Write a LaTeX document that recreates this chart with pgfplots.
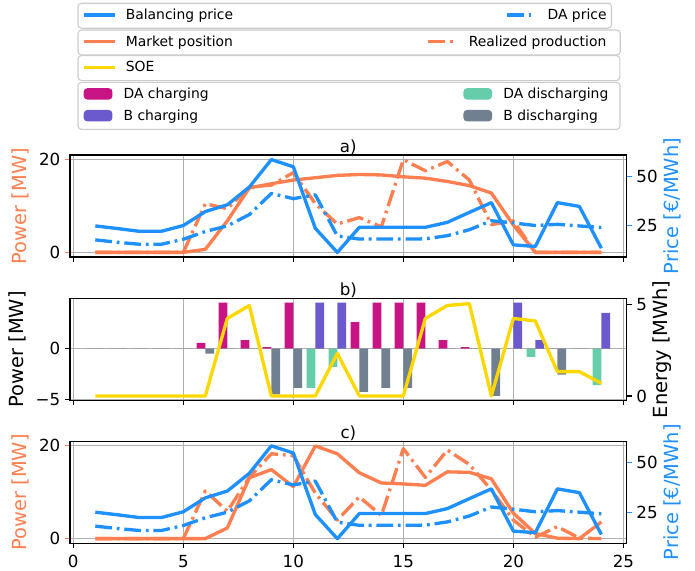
\documentclass[border=0pt]{standalone}
\usepackage{pgfplots}
\usepackage{pgfplotstable}
\pgfplotsset{compat=1.18}
\usepackage{fontspec}
\setmainfont{DejaVu Sans}

\definecolor{dodger}{HTML}{1E90FF}
\definecolor{mycoral}{HTML}{FF7F50}
\definecolor{mygold}{HTML}{FFD700}
\definecolor{mvred}{HTML}{C71585}
\definecolor{sblue}{HTML}{6A5ACD}
\definecolor{maqua}{HTML}{66CDAA}
\definecolor{sgray}{HTML}{708090}
\definecolor{gridgray}{HTML}{B0B0B0}
\definecolor{legedge}{HTML}{CCCCCC}

% hourly prices [EUR/MWh]: balancing and day-ahead
\pgfplotstableread{
h bal da
1 25.0 18.0
2 23.7 16.8
3 22.3 15.8
4 22.3 15.8
5 25.2 18.3
6 32.2 22.2
7 35.6 25.0
8 44.5 30.7
9 58.3 41.3
10 54.7 38.7
11 23.8 40.6
12 11.7 20.0
13 24.3 18.4
14 24.3 18.4
15 24.3 18.4
16 24.3 18.5
17 26.8 20.1
18 31.8 23.1
19 36.7 27.6
20 15.5 26.5
21 14.7 25.2
22 36.7 25.8
23 34.8 25.0
24 13.8 24.2
}\prices

% case a): market position and realized production [MW]
\pgfplotstableread{
h mp rp
1 0 0
2 0 0
3 0 0
4 0 0
5 0 0
6 0.65 10.5
7 6.8 9.4
8 13.9 14.1
9 14.8 14.5
10 15.6 17.2
11 16.1 10.5
12 16.6 6.1
13 16.8 7.5
14 16.7 5.5
15 16.3 20.0
16 16.0 17.6
17 15.3 19.6
18 14.4 15.6
19 12.8 6.0
20 5.9 6.8
21 0 0
22 0 0
23 0 0
24 0 0
}\posA

% case c): market position and realized production [MW]
\pgfplotstableread{
h mp rp
1 0 0
2 0 0
3 0 0
4 0 0
5 0 0
6 0 10.3
7 2.3 5.9
8 13.1 13.2
9 14.9 18.3
10 11.2 17.9
11 20.0 9.8
12 18.3 4.0
13 14.2 9.0
14 12.0 5.0
15 11.8 19.4
16 11.5 13.2
17 14.4 19.1
18 14.3 16.0
19 12.9 10.5
20 5.5 4.0
21 1.1 0.3
22 0.1 2.6
23 0 0.1
24 3.6 0
}\posC

% battery schedule [MW] and state of energy [MWh]
\pgfplotstableread{
h dac bc dad bd soe
1 0 0 0 0 0
2 0 0 0 0 0
3 0 0 0 0 0
4 0 0 0 0 0
5 0 0 0 0 0
6 0.55 0 0 -0.5 0
7 4.5 0 0 0 4.24
8 0.82 0 0 0 4.95
9 0.13 0 0 -4.5 0
10 4.5 0 0 -3.86 0
11 0 4.5 -3.86 0 0
12 0 4.5 -1.8 0 2.33
13 2.6 0 0 -4.25 0
14 4.5 0 0 -3.86 0
15 4.5 0 0 -3.86 0
16 4.5 0 0 0 4.24
17 0.82 0 0 0 4.95
18 0.13 0 0 0 5.05
19 0 0 0 -4.65 0
20 0 4.5 0 0 4.24
21 0 0.82 -0.82 0 4.1
22 0 0 0 -2.55 1.33
23 0 0 0 0 1.33
24 0 3.5 -3.6 0 0.69
}\battery

\pgfplotsset{
  every axis title shift=0pt,
  panel/.style={
    scale only axis, width=400.8pt, height=73.44pt,
    anchor=north west,
    xmin=-0.15, xmax=25.15, xtick={0,5,...,25},
    tick align=outside, major tick length=3.5pt,
    every tick/.style={line width=0.8pt},
    axis line style={line width=1pt},
    tick label style={font=\fontsize{12}{14}\selectfont},
    xticklabel style={inner ysep=1pt},
    xticklabel shift=4pt,
    label style={font=\fontsize{14}{17}\selectfont},
    title style={font=\fontsize{12}{14}\selectfont, at={(0.5,1)}, anchor=base, yshift=2pt},
    /pgf/number format/assume math mode=true,
  },
  leftpanel/.style={panel, xtick pos=left, ytick pos=left,
    grid=major, grid style={line width=0.8pt, gridgray}},
  rightpanel/.style={panel, axis x line=none, axis y line*=right,
    ylabel style={inner sep=1.5pt}, ylabel shift=-1pt},
  lineimg/.style={legend image code/.code={\draw[#1,line width=2.4pt,line cap=rect] (0pt,3.2pt)--(20pt,3.2pt);}},
  dashimg/.style={legend image code/.code={\draw[#1,line width=2.4pt,dash pattern=on 12pt off 3.5pt on 2pt off 3.5pt] (0pt,3.2pt)--(20pt,3.2pt);}},
  patchimg/.style={legend image code/.code={\fill[#1] (0pt,-0.2pt) rectangle (20pt,7.3pt);}},
  legendbox/.style={
    hide axis, scale only axis, width=500.4pt, height=410.4pt,
    xmin=0, xmax=1, ymin=0, ymax=1,
    at={(0pt,-410.4pt)}, anchor=south west,
    legend style={draw=legedge, line width=0.8pt, rounded corners=2.5pt, fill=white,
      font=\fontsize{10}{12}\selectfont,
      inner xsep=4pt, inner ysep=4.15pt, row sep=5.8pt, column sep=0pt,
      nodes={inner sep=0pt, text height=7.5pt, text depth=2.2pt, anchor=base west},
      /tikz/every odd column/.style={column sep=8pt},
      /tikz/every even column/.style={column sep=0pt},
      anchor=north west},
  },
  solidline/.style={line width=2.4pt, line join=round},
  dashdotline/.style={line width=2.4pt, line join=round, dash pattern=on 12pt off 3.5pt on 2pt off 3.5pt},
}

\begin{document}
\begin{tikzpicture}
\useasboundingbox (0pt,0pt) rectangle (500.4pt,-410.4pt);

% legend boxes
\begin{axis}[legendbox, legend columns=2, legend style={at={(0.1115,0.9953)}}]
\addlegendimage{lineimg=dodger}
\addlegendentry{\makebox[273.3pt][l]{Balancing price}}
\addlegendimage{dashimg=dodger}
\addlegendentry{\makebox[42pt][l]{DA price}}
\end{axis}
\begin{axis}[legendbox, legend columns=2, legend style={at={(0.1115,0.9484)}}]
\addlegendimage{lineimg=mycoral}
\addlegendentry{\makebox[216.6pt][l]{Market position}}
\addlegendimage{dashimg=mycoral}
\addlegendentry{\makebox[105pt][l]{Realized production}}
\end{axis}
\begin{axis}[legendbox, legend style={at={(0.1115,0.9035)}}]
\addlegendimage{lineimg=mygold}
\addlegendentry{\makebox[351.7pt][l]{SOE}}
\end{axis}
\begin{axis}[legendbox, legend columns=2, legend style={at={(0.1115,0.8565)}}]
\addlegendimage{patchimg=mvred}
\addlegendentry{\makebox[244.6pt][l]{DA charging}}
\addlegendimage{patchimg=maqua}
\addlegendentry{\makebox[80pt][l]{DA discharging}}
\addlegendimage{patchimg=sblue}
\addlegendentry{\makebox[244.6pt][l]{B charging}}
\addlegendimage{patchimg=sgray}
\addlegendentry{\makebox[80pt][l]{B discharging}}
\end{axis}

% a)
\begin{axis}[leftpanel, at={(50.4pt,-111.6pt)}, xticklabels={},
  ymin=-1, ymax=21, ytick={0,20}, title={a)},
  ylabel={Power [MW]}, ylabel style={color=mycoral}, y tick style={color=mycoral}]
\addplot[solidline, mycoral] table[x=h, y=mp] {\posA};
\addplot[dashdotline, mycoral] table[x=h, y=rp] {\posA};
\end{axis}
\begin{axis}[rightpanel, at={(50.4pt,-111.6pt)},
  ymin=9.4, ymax=60.6, ytick={25,50},
  ylabel={Price [€/MWh]}, ylabel style={color=dodger}, y tick style={color=dodger}]
\addplot[solidline, dodger] table[x=h, y=bal] {\prices};
\addplot[dashdotline, dodger] table[x=h, y=da] {\prices};
\end{axis}

% b)
\begin{axis}[leftpanel, at={(50.4pt,-214.8pt)}, xticklabels={},
  ymin=-5.08, ymax=4.92, ytick={-5,0}, yticklabels={−5,0}, title={b)},
  ylabel={Power [MW]}]
\addplot[ybar, bar width=0.4, bar shift=-0.2, fill=mvred, draw=none] table[x=h, y=dac] {\battery};
\addplot[ybar, bar width=0.4, bar shift=0.2, fill=sblue, draw=none] table[x=h, y=bc] {\battery};
\addplot[ybar, bar width=0.4, bar shift=-0.2, fill=maqua, draw=none] table[x=h, y=dad] {\battery};
\addplot[ybar, bar width=0.4, bar shift=0.2, fill=sgray, draw=none] table[x=h, y=bd] {\battery};
\end{axis}
\begin{axis}[rightpanel, at={(50.4pt,-214.8pt)},
  ymin=-0.24, ymax=5.34, ytick={0,5},
  ylabel={Energy [MWh]}]
\addplot[solidline, mygold] table[x=h, y=soe] {\battery};
\end{axis}

% c)
\begin{axis}[leftpanel, at={(50.4pt,-317.7pt)},
  ymin=-1, ymax=21, ytick={0,20}, title={c)},
  ylabel={Power [MW]}, ylabel style={color=mycoral}, y tick style={color=mycoral}]
\addplot[solidline, mycoral] table[x=h, y=mp] {\posC};
\addplot[dashdotline, mycoral] table[x=h, y=rp] {\posC};
\end{axis}
\begin{axis}[rightpanel, at={(50.4pt,-317.7pt)},
  ymin=9.4, ymax=60.6, ytick={25,50},
  ylabel={Price [€/MWh]}, ylabel style={color=dodger}, y tick style={color=dodger}]
\addplot[solidline, dodger] table[x=h, y=bal] {\prices};
\addplot[dashdotline, dodger] table[x=h, y=da] {\prices};
\end{axis}
\end{tikzpicture}
\end{document}
